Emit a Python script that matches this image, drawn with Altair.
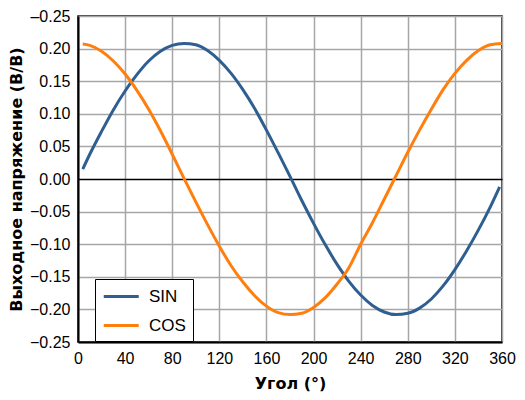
import pandas as pd
import altair as alt

# ---------- data ----------

sin_angle = [4, 10, 20, 30, 40, 50, 60, 70, 80, 90, 100, 110, 120, 130, 140, 150, 160, 170,
             180, 190, 200, 210, 220, 230, 240, 250, 260, 270, 280, 290, 300, 310, 320, 330,
             340, 350, 358]
sin_value = [0.015, 0.038, 0.073, 0.106, 0.135, 0.160, 0.181, 0.196, 0.205, 0.208, 0.206,
             0.197, 0.182, 0.162, 0.137, 0.108, 0.075, 0.040, 0.004, -0.033, -0.068, -0.101,
             -0.131, -0.157, -0.178, -0.194, -0.204, -0.208, -0.206, -0.198, -0.184, -0.164,
             -0.139, -0.110, -0.078, -0.043, -0.012]

cos_angle = [4, 10, 20, 30, 40, 50, 60, 70, 80, 90, 100, 110, 120, 130, 140, 150, 160, 170,
             180, 190, 200, 210, 220, 230, 240, 250, 260, 270, 280, 290, 300, 310, 320, 330,
             340, 350, 360]
cos_value = [0.207, 0.205, 0.196, 0.181, 0.161, 0.136, 0.107, 0.074, 0.038, 0.001, -0.035,
             -0.070, -0.103, -0.133, -0.158, -0.179, -0.195, -0.205, -0.208, -0.206, -0.197,
             -0.182, -0.161, -0.136, -0.100, -0.067, -0.031, 0.005, 0.041, 0.075, 0.107,
             0.137, 0.162, 0.182, 0.197, 0.206, 0.208]

x_ticks = [0, 40, 80, 120, 160, 200, 240, 280, 320, 360]
y_ticks = [-0.25, -0.20, -0.15, -0.10, -0.05, 0.0, 0.05, 0.10, 0.15, 0.20, 0.25]

series = ["SIN", "COS"]
colors = ["#2f5f91", "#ff7f0e"]

df = pd.concat([
    pd.DataFrame({"angle": sin_angle, "value": sin_value, "series": "SIN"}),
    pd.DataFrame({"angle": cos_angle, "value": cos_value, "series": "COS"}),
])

FONT = "Liberation Sans"
TITLE_FONT = "DejaVu Sans"

# top label is printed as "–0.25" in the original
label_expr = ("datum.value >= 0.249 ? '–0.25' : "
              "replace(format(datum.value, '.2f'), '-', '–')")

y_enc = alt.Y("value:Q", title="Выходное напряжение (В/В)",
              scale=alt.Scale(domain=[-0.25, 0.25], nice=False),
              axis=alt.Axis(values=y_ticks, labelExpr=label_expr, labelOverlap=False,
                            # zero line drawn as a black grid line
                            gridColor=alt.condition("datum.value === 0",
                                                    alt.value("black"),
                                                    alt.value("#a6a6a6"))))

chart = (
    alt.Chart(df)
    .mark_line(strokeWidth=3, interpolate="monotone")
    .encode(
        x=alt.X("angle:Q", title="Угол (°)",
                scale=alt.Scale(domain=[0, 360], nice=False),
                axis=alt.Axis(values=x_ticks, format="d", labelOverlap=False)),
        y=y_enc,
        color=alt.Color("series:N", sort=series,
                        scale=alt.Scale(domain=series, range=colors),
                        legend=alt.Legend(
                            title=None, orient="none", legendX=17, legendY=263,
                            symbolType="M-1,0H3", symbolStrokeWidth=3, symbolSize=306,
                            labelFontSize=17, labelFont=FONT, labelColor="black",
                            rowPadding=10, padding=7, labelOffset=26,
                            strokeColor="black", fillColor="white",
                        )),
    )
    .properties(width=424, height=326, autosize=alt.AutoSizeParams(type="none"),
                padding={"left": 70, "top": 8, "right": 14, "bottom": 50})
    .configure_view(stroke="black", strokeWidth=1.5)
    .configure_axis(
        grid=True, gridWidth=1.5,
        domainColor="black", domainWidth=2, ticks=False,
        labelFont=FONT, labelFontSize=16, labelColor="black", labelPadding=8,
        labelFlush=False, labelBound=False,
        titleFont=TITLE_FONT, titleFontSize=16, titleFontWeight="bold", titleColor="black",
    )
    .configure_axisX(titlePadding=9, gridColor="#a6a6a6")
    .configure_axisY(titlePadding=5)
)

chart.save("out.html", embed_options={"renderer": "svg", "actions": False})
